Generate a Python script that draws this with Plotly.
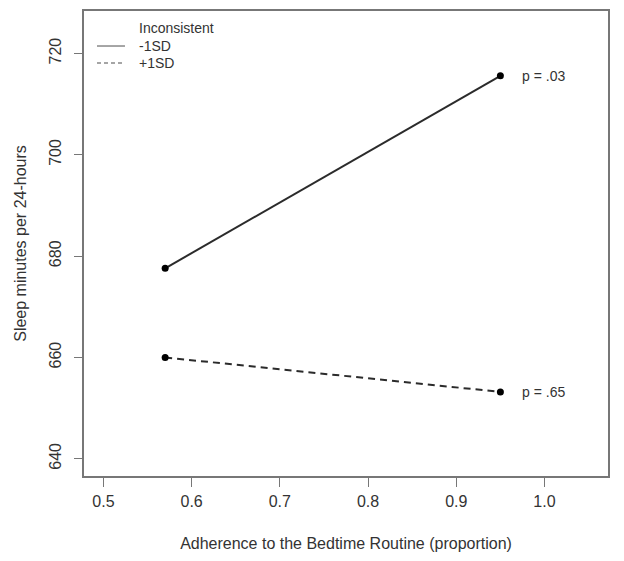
import plotly.graph_objects as go

adherence = [0.57, 0.95]
minus_1sd = [677.6, 715.6]
plus_1sd = [660.0, 653.2]
series_names = ["-1SD", "+1SD"]
legend_title = "Inconsistent"
p_labels = ["p = .03", "p = .65"]
x_ticks = [0.5, 0.6, 0.7, 0.8, 0.9, 1.0]
x_tick_text = ["0.5", "0.6", "0.7", "0.8", "0.9", "1.0"]
y_ticks = [640, 660, 680, 700, 720]

FONT = "Liberation Sans, Arial, sans-serif"
LINE = "#2b2b2b"
AX = "#777777"
TXT = "#333333"

fig = go.Figure()
for ys, name, dash in [(minus_1sd, series_names[0], "solid"), (plus_1sd, series_names[1], "7px,5px")]:
    fig.add_trace(go.Scatter(x=adherence, y=ys, mode="lines", name=name, showlegend=False,
                             line=dict(color=LINE, width=2, dash=dash)))
    fig.add_trace(go.Scatter(x=adherence, y=ys, mode="markers", showlegend=False,
                             marker=dict(color="black", size=7)))

for ys, lab in [(minus_1sd, p_labels[0]), (plus_1sd, p_labels[1])]:
    fig.add_annotation(x=adherence[-1], y=ys[-1], text=lab, showarrow=False,
                       xanchor="left", xshift=20, font=dict(size=14, color=TXT, family=FONT))

# manual legend (R-style, no box)
x0, x1, xt = 0.0248, 0.0782, 0.1011
fig.add_annotation(xref="paper", yref="paper", x=xt, y=0.9634, text=legend_title,
                   showarrow=False, xanchor="left", yanchor="middle",
                   font=dict(size=14, color=TXT, family=FONT))
for yy, name, dash in [(0.9247, series_names[0], "solid"), (0.8882, series_names[1], "4px,3px")]:
    fig.add_shape(type="line", xref="paper", yref="paper", x0=x0, x1=x1, y0=yy, y1=yy,
                  line=dict(color="#888888", width=1.5, dash=dash))
    fig.add_annotation(xref="paper", yref="paper", x=xt, y=yy, text=name,
                       showarrow=False, xanchor="left", yanchor="middle",
                       font=dict(size=14, color=TXT, family=FONT))

fig.update_layout(
    width=624, height=561,
    margin=dict(l=76, r=24, t=3, b=93, autoexpand=False),
    plot_bgcolor="white", paper_bgcolor="white",
    font=dict(family=FONT, color=TXT),
    showlegend=False,
    xaxis=dict(range=[0.478, 1.072], tickvals=x_ticks, ticktext=x_tick_text,
               showgrid=False, zeroline=False, showline=True, mirror=True, automargin=False,
               linecolor=AX, linewidth=1.5, ticks="outside", ticklen=9, tickcolor=AX,
               tickfont=dict(size=16, color=TXT), ticklabelstandoff=1,
               title=dict(text="Adherence to the Bedtime Routine (proportion)",
                          font=dict(size=16, color=TXT), standoff=29)),
    yaxis=dict(range=[636.6, 728.4], tickvals=y_ticks, tickangle=-90,
               showgrid=False, zeroline=False, showline=True, mirror=True, automargin=False,
               linecolor=AX, linewidth=1.5, ticks="outside", ticklen=8, tickcolor=AX,
               tickfont=dict(size=16, color=TXT), ticklabelstandoff=7,
               title=dict(text="Sleep minutes per 24-hours",
                          font=dict(size=16, color=TXT), standoff=16)),
)

fig.write_html("out.html")
